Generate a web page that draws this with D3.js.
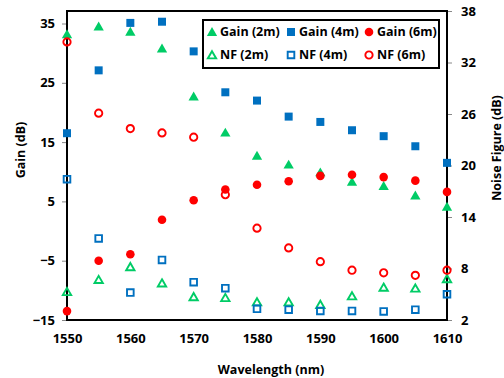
<!DOCTYPE html>
<html>
<head>
<meta charset="utf-8">
<script src="https://d3js.org/d3.v7.min.js"></script>
<style>
  body { margin: 0; background: #fff; }
  text { font-family: "Open Sans", "DejaVu Sans", sans-serif; font-weight: bold; fill: #000; }
</style>
</head>
<body>
<div id="chart"></div>
<script>
var wavelength = [1550, 1555, 1560, 1565, 1570, 1575, 1580, 1585, 1590, 1595, 1600, 1605, 1610];

var gain2m = [33.2, 34.5, 33.6, 30.8, 22.7, 16.6, 12.7, 11.2, 9.9, 8.3, 7.6, 6.0, 4.1];
var gain4m = [16.5, 27.1, 35.1, 35.3, 30.3, 23.4, 22.0, 19.3, 18.4, 17.0, 16.0, 14.3, 11.5];
var gain6m = [-13.5, -5.0, -3.9, 1.9, 5.2, 7.0, 7.8, 8.4, 9.3, 9.5, 9.1, 8.5, 6.6];

var nf2m = [5.3, 6.7, 8.2, 6.3, 4.7, 4.6, 4.1, 4.1, 3.8, 4.8, 5.8, 5.7, 6.8];
var nf4m = [18.4, 11.5, 5.2, 9.0, 6.4, 5.7, 3.3, 3.2, 3.05, 3.05, 3.0, 3.2, 5.0];
var nf6m = [34.4, 26.1, 24.3, 23.8, 23.3, 16.6, 12.7, 10.4, 8.8, 7.8, 7.5, 7.2, 7.8];

var xTicks = [1550, 1560, 1570, 1580, 1590, 1600, 1610];
var gainTicks = [-15, -5, 5, 15, 25, 35];
var nfTicks = [2, 8, 14, 20, 26, 32, 38];

var width = 504, height = 378;
var plotL = 67, plotR = 447, plotT = 11, plotB = 320;

var green = "#00cc66", blue = "#0070c0", red = "#ff0000";

var series = [
  {name: "Gain (2m)", values: gain2m, axis: "L", shape: d3.symbolTriangle, color: green, filled: true},
  {name: "Gain (4m)", values: gain4m, axis: "L", shape: d3.symbolSquare, color: blue, filled: true},
  {name: "Gain (6m)", values: gain6m, axis: "L", shape: d3.symbolCircle, color: red, filled: true},
  {name: "NF (2m)", values: nf2m, axis: "R", shape: d3.symbolTriangle, color: green, filled: false},
  {name: "NF (4m)", values: nf4m, axis: "R", shape: d3.symbolSquare, color: blue, filled: false},
  {name: "NF (6m)", values: nf6m, axis: "R", shape: d3.symbolCircle, color: red, filled: false}
];

function symSize(shape, filled) {
  if (shape === d3.symbolTriangle) return filled ? 46 : 30;
  if (shape === d3.symbolSquare) return filled ? 64 : 44;
  return filled ? 58 : 42;
}

var svg = d3.select("#chart").append("svg")
  .attr("width", width)
  .attr("height", height);

var x = d3.scaleLinear().domain([1550, 1610]).range([plotL, plotR]);
var yL = d3.scaleLinear().domain([-15, 35]).range([plotB, 23.5]);
var yR = d3.scaleLinear().domain([2, 38]).range([plotB, plotT]);

// axes
var axL = svg.append("g").attr("transform", "translate(" + plotL + ",0)")
  .call(d3.axisLeft(yL).tickValues(gainTicks).tickSize(5).tickPadding(7));
var axR = svg.append("g").attr("transform", "translate(" + plotR + ",0)")
  .call(d3.axisRight(yR).tickValues(nfTicks).tickSize(5).tickPadding(9));
var axB = svg.append("g").attr("transform", "translate(0," + plotB + ")")
  .call(d3.axisBottom(x).tickValues(xTicks).tickFormat(d3.format("d")).tickSize(0).tickPadding(14));

[axL, axR, axB].forEach(function(a) {
  a.select(".domain").remove();
  a.selectAll(".tick line").attr("stroke", "#888").attr("stroke-width", 1);
  a.selectAll(".tick text").style("font-size", "13px").style("font-family", "Open Sans").style("font-weight", "bold").attr("fill", "#000");
});

// frame
svg.append("rect")
  .attr("x", plotL).attr("y", plotT)
  .attr("width", plotR - plotL).attr("height", plotB - plotT)
  .attr("fill", "none").attr("stroke", "#000").attr("stroke-width", 2);

// points
series.forEach(function(s) {
  var ys = s.axis === "L" ? yL : yR;
  var sym = d3.symbol().type(s.shape).size(symSize(s.shape, s.filled));
  svg.append("g").selectAll("path")
    .data(s.values)
    .enter().append("path")
    .attr("d", sym)
    .attr("transform", function(d, i) {
      var dy = s.shape === d3.symbolTriangle ? 1 : 0;
      return "translate(" + x(wavelength[i]) + "," + (ys(d) + dy) + ")";
    })
    .attr("fill", s.filled ? s.color : "none")
    .attr("stroke", s.filled ? "none" : s.color)
    .attr("stroke-width", s.filled ? 0 : 1.9);
});

// legend
var lg = svg.append("g");
lg.append("rect")
  .attr("x", 203).attr("y", 20).attr("width", 236).attr("height", 48)
  .attr("fill", "#fff").attr("stroke", "#000").attr("stroke-width", 2);

var legX = [212, 291, 369];
var legY = [32, 55];
series.forEach(function(s, i) {
  var cx = legX[i % 3], cy = legY[Math.floor(i / 3)];
  var dy = s.shape === d3.symbolTriangle ? 1 : 0;
  lg.append("path")
    .attr("d", d3.symbol().type(s.shape).size(symSize(s.shape, s.filled))())
    .attr("transform", "translate(" + cx + "," + (cy + dy) + ")")
    .attr("fill", s.filled ? s.color : "none")
    .attr("stroke", s.filled ? "none" : s.color)
    .attr("stroke-width", s.filled ? 0 : 1.9);
  lg.append("text")
    .attr("x", cx + 8).attr("y", cy)
    .attr("dy", "0.35em")
    .style("font-size", "12.5px")
    .text(s.name);
});

// axis titles
svg.append("text")
  .attr("transform", "translate(21,150) rotate(-90)")
  .attr("text-anchor", "middle").attr("dy", "0.35em")
  .style("font-size", "12.5px")
  .text("Gain (dB)");

svg.append("text")
  .attr("transform", "translate(497,148) rotate(-90)")
  .attr("text-anchor", "middle").attr("dy", "0.35em")
  .style("font-size", "12.5px")
  .text("Noise Figure (dB)");

svg.append("text")
  .attr("x", 271).attr("y", 370)
  .attr("text-anchor", "middle").attr("dy", "0.35em")
  .style("font-size", "12.5px")
  .text("Wavelength (nm)");
</script>
</body>
</html>
